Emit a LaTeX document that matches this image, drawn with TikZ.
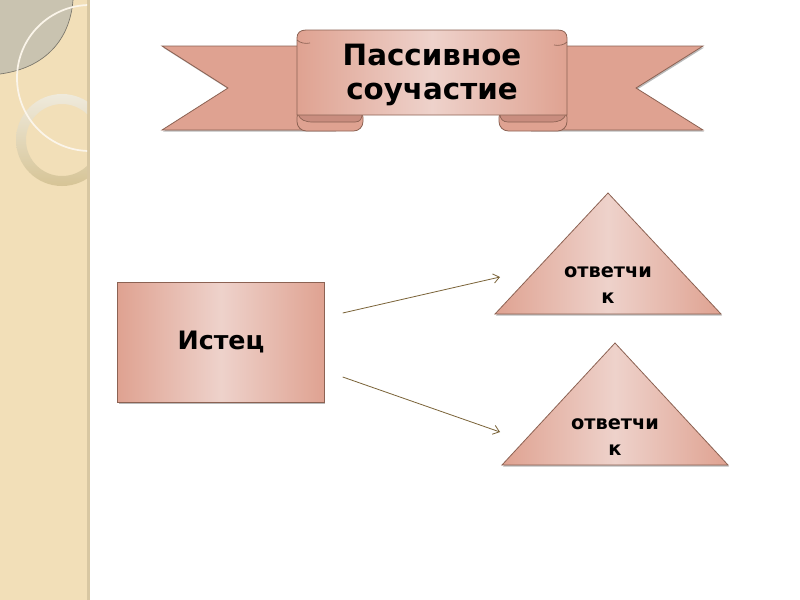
\documentclass[tikz,border=0pt]{standalone}
\usepackage{fontspec}
\setmainfont{DejaVu Sans}
\usetikzlibrary{arrows.meta,positioning,calc,shadows}
\definecolor{ros}{HTML}{DFA291}
\definecolor{rosl}{HTML}{EED2CB}
\definecolor{rosd}{HTML}{C98D7F}
\definecolor{edg}{HTML}{8C6253}
\definecolor{arw}{HTML}{7A6338}
\definecolor{sand}{HTML}{F2DFB8}
\definecolor{sandd}{HTML}{D8C7A2}
\definecolor{leaf}{HTML}{C9C3B0}
\definecolor{ringl}{HTML}{EFEADC}
\definecolor{ringd}{HTML}{D6C496}

\begin{document}
\begin{tikzpicture}[x=0.75pt,y=-0.75pt,
  pinkshade/.style={left color=ros,right color=ros,middle color=rosl},
  shd/.style={drop shadow={shadow xshift=0.8pt,shadow yshift=-1.2pt,opacity=0.45,fill=black!60}},
  box/.style={draw=edg,line width=0.6pt,pinkshade,shd,minimum width=155pt,minimum height=90pt,
    font=\fontsize{19}{23}\selectfont\bfseries},
  otv/.style={align=center,inner sep=0pt,font=\fontsize{14.5}{19}\selectfont\bfseries},
  conn/.style={arw,line width=0.6pt,-{Straight Barb[length=4.5pt,width=7pt]}}]
\useasboundingbox (0,0) rectangle (800,600);
\fill[white] (0,0) rectangle (800,600);
% left strip
\fill[sand] (0,0) rectangle (88,600);
\fill[sandd] (87,0) rectangle (90,600);
\begin{scope}
  \clip (0,0) rectangle (87,600);
  \fill[leaf] (0,0) -- (73,0) .. controls (70,40) and (45,68) .. (0,74) -- cycle;
  \draw[leaf!60!black,line width=0.5pt] (73,0) .. controls (70,40) and (45,68) .. (0,74);
  \shade[top color=ringl,bottom color=ringd,even odd rule] (62,140) circle (46) (62,140) circle (36);
  \draw[white!70!sand,line width=1.3pt] (90,78) circle (73);
\end{scope}
% banner tails
\path[fill=ros,draw=edg,line width=0.6pt,shd] (162,46) -- (335,46) -- (335,130) -- (162,130) -- (228,88) -- cycle;
\path[fill=ros,draw=edg,line width=0.6pt,shd] (703,46) -- (530,46) -- (530,130) -- (703,130) -- (636,88) -- cycle;
% folds
\path[fill=ros,draw=edg,line width=0.6pt,rounded corners=7] (297,108) rectangle (363,131);
\path[fill=rosd,draw=edg,line width=0.5pt] (298,114) .. controls (300,120) and (305,122) .. (313,122)
  -- (355,122) .. controls (360,122) and (362,119) .. (362,114) -- cycle;
\path[fill=ros,draw=edg,line width=0.6pt,rounded corners=7] (499,108) rectangle (567,131);
\path[fill=rosd,draw=edg,line width=0.5pt] (566,114) .. controls (564,120) and (559,122) .. (551,122)
  -- (508,122) .. controls (503,122) and (500,119) .. (500,114) -- cycle;
% center panel
\path[pinkshade,draw=edg,line width=0.6pt] (297,115) -- (297,38) .. controls (297,33) and (300,30) .. (306,30)
  -- (558,30) .. controls (564,30) and (567,33) .. (567,38) -- (567,115) -- cycle;
\draw[edg,line width=0.5pt] (297,40) .. controls (300,43) and (305,44) .. (310,43);
\draw[edg,line width=0.5pt] (567,42) .. controls (564,45) and (559,46) .. (554,45);
\node[align=center,inner sep=0pt,font=\fontsize{22}{26}\selectfont\bfseries] (ttl) at (432,75) {Пассивное\\соучастие};
% plaintiff
\node[box] (ist) at (221,342) {Истец};
% defendants
\path[pinkshade,draw=edg,line width=0.6pt,shd] (608,193) -- (721,314) -- (495,314) -- cycle;
\node[otv] (otv1) at (608,285) {ответчи\\к};
\path[pinkshade,draw=edg,line width=0.6pt,shd] (615,343) -- (728,465) -- (502,465) -- cycle;
\node[otv] (otv2) at (615,437) {ответчи\\к};
% arrows
\coordinate (a1s) at ($(ist.east)+(18,-29)$);
\coordinate (a1e) at (500,277);
\coordinate (a2s) at ($(ist.east)+(18,35)$);
\coordinate (a2e) at (500,432);
\draw[conn] (a1s) -- (a1e);
\draw[conn] (a2s) -- (a2e);
\end{tikzpicture}
\end{document}
